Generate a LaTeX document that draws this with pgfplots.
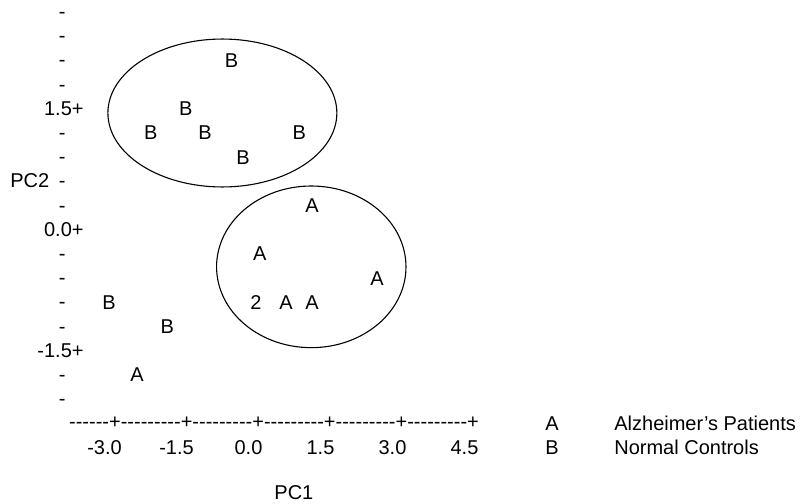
\documentclass[border=0pt]{standalone}
\usepackage{fontspec}
\setmainfont{Liberation Sans}
\usepackage{pgfplots}
\pgfplotsset{compat=1.18}
\usepackage{pgfplotstable}

\pgfplotstableread{
x y label
1.17 0.3 A
0.08 -0.3 A
2.52 -0.6 A
0.0 -0.9 2
0.625 -0.9 A
1.17 -0.9 A
-2.48 -1.8 A
}\groupA

\pgfplotstableread{
x y label
-0.51 2.1 B
-1.46 1.5 B
-2.19 1.2 B
-1.06 1.2 B
0.90 1.2 B
-0.27 0.9 B
-3.06 -0.9 B
-1.85 -1.2 B
}\groupB

\newcommand{\hy}{-{}}
\newcommand{\nine}{\hy\hy\hy\hy\hy\hy\hy\hy\hy}
\newcommand{\dl}{-\kern9pt\relax}

\begin{document}
\begin{tikzpicture}[font=\fontsize{10}{12}\selectfont]
\begin{axis}[
  x=24pt, y=40.333pt,
  xmin=-3.583, xmax=4.5, ymin=-2.4, ymax=2.7,
  clip=false,
  axis line style={draw=none},
  major tick length=0pt,
  tick style={draw=none},
  tick label style={font=\fontsize{10}{12}\selectfont},
  xtick={-3,-1.5,0,1.5,3,4.5},
  xticklabels={-3.0,-1.5,0.0,1.5,3.0,4.5},
  xticklabel style={anchor=center, inner sep=0pt, yshift=-12.1pt, xshift=-3.75pt},
  ytick={-2.1,-1.8,-1.5,-1.2,-0.9,-0.6,-0.3,0,0.3,0.6,0.9,1.2,1.5,1.8,2.1,2.4,2.7},
  yticklabels={\dl,\dl,-1.5+,\dl,\dl,\dl,\dl,0.0+,\dl,PC2\kern4.85pt\dl,\dl,\dl,1.5+,\dl,\dl,\dl,\dl},
  yticklabel style={anchor=base east, inner sep=0pt, yshift=-3.2pt},
  xlabel={PC1},
  xlabel style={at={(axis cs:0.79,-3.263)}, anchor=center, inner sep=0pt},
  every node near coord/.append style={inner sep=0pt, anchor=center, font=\fontsize{10}{12}\selectfont, text=black},
]
% invisible frame giving the picture its size
\path (axis cs:-5.333,2.849) rectangle (axis cs:11.417,-3.399);

% x axis drawn as a line-printer row
\node[anchor=base west, inner sep=0pt, yshift=-2.7pt] at (axis cs:-3.9,-2.4)
  {\hy\hy\hy\hy\hy\hy+\nine+\nine+\nine+\nine+\nine+};

\addplot[draw=none, mark=none, point meta=explicit symbolic,
  nodes near coords, nodes near coords align={center}]
  table[x=x, y=y, meta=label] {\groupA};
\addplot[draw=none, mark=none, point meta=explicit symbolic,
  nodes near coords, nodes near coords align={center}]
  table[x=x, y=y, meta=label] {\groupB};

\draw[line width=0.55pt] (axis cs:-0.70,1.448) ellipse [x radius=2.385, y radius=0.917];
\draw[line width=0.55pt] (axis cs:1.152,-0.459) ellipse [x radius=1.973, y radius=1.002];

% legend
\node[anchor=center, inner sep=0pt] at (axis cs:6.167,-2.4) {A};
\node[anchor=west, inner sep=0pt] at (axis cs:7.458,-2.4) {Alzheimer's Patients};
\node[anchor=center, inner sep=0pt] at (axis cs:6.167,-2.7) {B};
\node[anchor=west, inner sep=0pt] at (axis cs:7.458,-2.7) {Normal Controls};
\end{axis}
\end{tikzpicture}
\end{document}
